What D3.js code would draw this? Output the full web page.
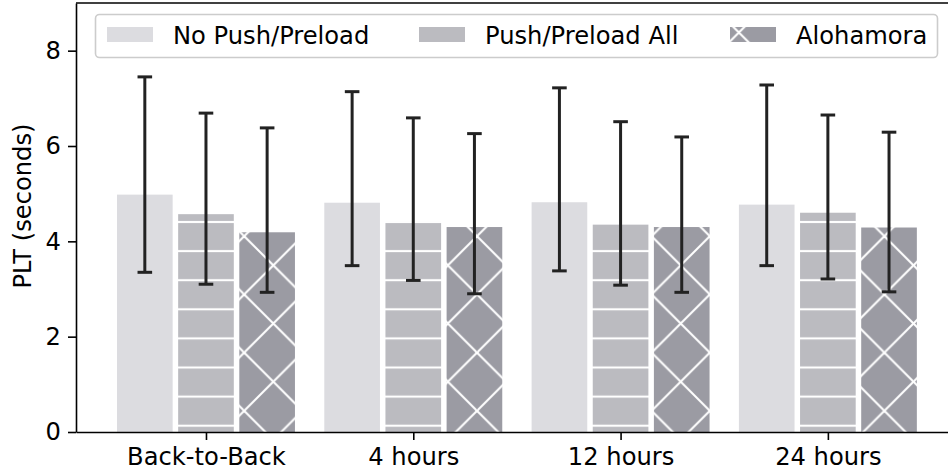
<!DOCTYPE html>
<html>
<head>
<meta charset="utf-8">
<script src="https://cdn.jsdelivr.net/npm/d3@7"></script>
<style>
  html, body { margin: 0; padding: 0; background: #ffffff; }
  svg { display: block; }
  text { font-family: "DejaVu Sans", sans-serif; fill: #000; }
</style>
</head>
<body>
<svg id="chart" width="948" height="473"></svg>
<script>
// Page load time per revisit interval, with lower/upper error ranges
const categories = ["Back-to-Back", "4 hours", "12 hours", "24 hours"];
const seriesNames = ["No Push/Preload", "Push/Preload All", "Alohamora"];

const noPushMean = [4.98, 4.81, 4.82, 4.77];
const noPushLow  = [3.35, 3.49, 3.38, 3.49];
const noPushHigh = [7.45, 7.14, 7.22, 7.28];

const pushAllMean = [4.57, 4.42, 4.35, 4.60];
const pushAllLow  = [3.10, 3.18, 3.08, 3.21];
const pushAllHigh = [6.69, 6.59, 6.51, 6.65];

const alohaMean = [4.19, 4.30, 4.30, 4.29];
const alohaLow  = [2.93, 2.90, 2.93, 2.94];
const alohaHigh = [6.38, 6.26, 6.19, 6.29];

const yTicks = [0, 2, 4, 6, 8];

const series = [
  { name: seriesNames[0], mean: noPushMean,  low: noPushLow,  high: noPushHigh,  fill: "#dcdce0", hatch: null },
  { name: seriesNames[1], mean: pushAllMean, low: pushAllLow, high: pushAllHigh, fill: "#bbbbc0", hatch: "hlines" },
  { name: seriesNames[2], mean: alohaMean,   low: alohaLow,   high: alohaHigh,   fill: "#9b9ba3", hatch: "cross" }
];

const svg = d3.select("#chart");
const plotLeft = 76, plotRight = 962, plotTop = 3, plotBottom = 432;
const fontSize = 24.2;

const x = d3.scaleLinear().domain([-0.627, 3.647]).range([plotLeft, plotRight]);
const y = d3.scaleLinear().domain([0, 9]).range([plotBottom, plotTop]);

const barW = 0.295;          // bar width in category units
const edge = 5.5;            // white gap between neighbouring bars (px)
const hatchStep = 29.1;      // hatch spacing (px)

// Hatch patterns, anchored to the page so neighbouring bars line up
const defs = svg.append("defs");
const hl = defs.append("pattern")
  .attr("id", "hatch-hlines")
  .attr("patternUnits", "userSpaceOnUse")
  .attr("x", 0).attr("y", 280.2 - hatchStep / 2)
  .attr("width", 20).attr("height", hatchStep);
hl.append("rect").attr("width", 20).attr("height", hatchStep).attr("fill", series[1].fill);
hl.append("line").attr("x1", -1).attr("x2", 21)
  .attr("y1", hatchStep / 2).attr("y2", hatchStep / 2)
  .attr("stroke", "#fff").attr("stroke-width", 2.1);

const T = hatchStep * 2;
const cx = defs.append("pattern")
  .attr("id", "hatch-cross")
  .attr("patternUnits", "userSpaceOnUse")
  .attr("x", 273.3 - T / 2).attr("y", 381.7 - T / 2)
  .attr("width", T).attr("height", T);
cx.append("rect").attr("width", T).attr("height", T).attr("fill", series[2].fill);
[-1, 0, 1].forEach(k => {
  cx.append("line").attr("x1", -2).attr("y1", -2 + k * T).attr("x2", T + 2).attr("y2", T + 2 + k * T)
    .attr("stroke", "#fff").attr("stroke-width", 2.1);
});
[0, 1, 2].forEach(k => {
  cx.append("line").attr("x1", -2).attr("y1", k * T + 2).attr("x2", T + 2).attr("y2", k * T - T - 2)
    .attr("stroke", "#fff").attr("stroke-width", 2.1);
});

function fillFor(s) {
  if (s.hatch === "hlines") return "url(#hatch-hlines)";
  if (s.hatch === "cross") return "url(#hatch-cross)";
  return s.fill;
}

// Bars
const bars = svg.append("g").attr("class", "bars");
series.forEach((s, si) => {
  const off = (si - 1) * barW;
  bars.selectAll(null)
    .data(s.mean)
    .join("rect")
    .attr("x", (d, i) => x(i + off - barW / 2) + edge / 2)
    .attr("width", x(barW) - x(0) - edge)
    .attr("y", d => y(d))
    .attr("height", d => y(0) - y(d))
    .attr("fill", fillFor(s));
});

// Error bars
const errColor = "#222222";
const capHalf = 7.3;
const errs = svg.append("g").attr("class", "errors");
series.forEach((s, si) => {
  const off = (si - 1) * barW;
  const rows = s.mean.map((m, i) => ({ i, lo: s.low[i], hi: s.high[i] }));
  errs.selectAll(null).data(rows).join("line")
    .attr("x1", d => x(d.i + off)).attr("x2", d => x(d.i + off))
    .attr("y1", d => y(d.lo)).attr("y2", d => y(d.hi))
    .attr("stroke", errColor).attr("stroke-width", 3);
  ["lo", "hi"].forEach(key => {
    errs.selectAll(null).data(rows).join("line")
      .attr("x1", d => x(d.i + off) - capHalf).attr("x2", d => x(d.i + off) + capHalf)
      .attr("y1", d => y(d[key])).attr("y2", d => y(d[key]))
      .attr("stroke", errColor).attr("stroke-width", 3);
  });
});

// Axes
const xAxis = d3.axisBottom(x)
  .tickValues(d3.range(categories.length))
  .tickFormat(i => categories[i])
  .tickSize(8).tickSizeOuter(0).tickPadding(6);
const gx = svg.append("g").attr("transform", `translate(0,${plotBottom})`).call(xAxis);
gx.select(".domain").attr("stroke-width", 1.6);
gx.selectAll(".tick line").attr("stroke-width", 1.6);
gx.selectAll(".tick text").attr("font-size", fontSize).attr("font-family", "DejaVu Sans")
  .attr("dy", null).attr("y", 33);

const yAxis = d3.axisLeft(y).tickValues(yTicks).tickSize(8).tickSizeOuter(0).tickPadding(7);
const gy = svg.append("g").attr("transform", `translate(${plotLeft},0)`).call(yAxis);
gy.select(".domain").attr("stroke-width", 1.6);
gy.selectAll(".tick line").attr("stroke-width", 1.6);
gy.selectAll(".tick text").attr("font-size", fontSize).attr("font-family", "DejaVu Sans");

// Top spine
svg.append("line")
  .attr("x1", plotLeft).attr("x2", plotRight).attr("y1", plotTop).attr("y2", plotTop)
  .attr("stroke", "#000").attr("stroke-width", 1.6);

// Y axis title
svg.append("text")
  .attr("transform", `translate(31,206) rotate(-90)`)
  .attr("text-anchor", "middle")
  .attr("font-size", fontSize)
  .text("PLT (seconds)");

// Legend
const legend = svg.append("g").attr("class", "legend");
legend.append("rect")
  .attr("x", 95.5).attr("y", 14.5).attr("width", 842).attr("height", 43).attr("rx", 4)
  .attr("fill", "#fff").attr("fill-opacity", 0.8)
  .attr("stroke", "#cccccc").attr("stroke-width", 1.6);
const handleX = [107, 419, 730];
series.forEach((s, si) => {
  legend.append("rect")
    .attr("x", handleX[si]).attr("y", 27).attr("width", 46).attr("height", 15)
    .attr("fill", fillFor(s));
  legend.append("text")
    .attr("x", handleX[si] + 66).attr("y", 44)
    .attr("font-size", fontSize)
    .text(s.name);
});
</script>
</body>
</html>
